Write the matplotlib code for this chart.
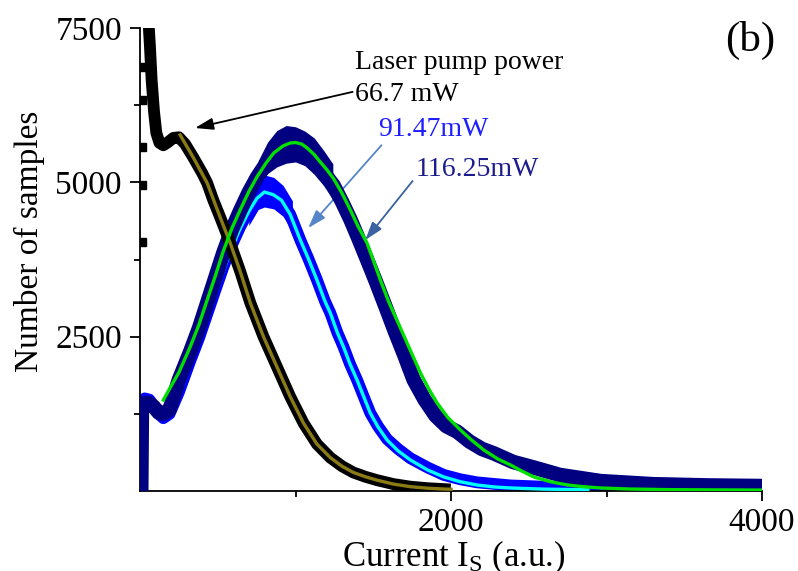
import matplotlib
matplotlib.use('Agg')
import matplotlib.pyplot as plt

plt.rcParams['font.family'] = ['Liberation Serif', 'DejaVu Serif']
plt.rcParams['mathtext.fontset'] = 'custom'
plt.rcParams['mathtext.rm'] = 'Liberation Serif'
plt.rcParams['mathtext.it'] = 'Liberation Serif:italic'

# ---------------- data ----------------
# 66.7 mW : measured histogram (black) and fit (olive)
black_x = [50, 64, 75, 90, 105, 125, 150, 180, 215, 250, 290, 341, 400, 432, 470, 515,
           580, 644, 709, 794, 880, 966, 1052, 1138, 1224, 1300, 1372, 1450, 1525, 1630,
           1739, 1850, 1960]
black_y = [7800, 7200, 6650, 6150, 5800, 5640, 5600, 5650, 5720, 5730, 5620, 5410, 5150,
           4989, 4720, 4438, 4017, 3560, 3050, 2500, 2014, 1528, 1097, 760, 540, 400, 300,
           230, 175, 112, 70, 45, 30]
black_scatter_x = [15, 15, 15, 15, 15]
black_scatter_y = [6870, 6330, 5570, 4950, 4030]
olive_x = [258, 341, 432, 515, 580, 644, 709, 794, 880, 966, 1052, 1138, 1224, 1300,
           1372, 1450, 1525, 1630, 1739, 1850, 1952, 2000]
olive_y = [5767, 5410, 4989, 4438, 4017, 3560, 3050, 2500, 2014, 1528, 1097, 760, 540,
           400, 300, 230, 175, 112, 70, 45, 32, 28]

# 91.47 mW : measured (blue) and fit (cyan)
blue_x = [8, 12, 30, 60, 90, 120, 150, 190, 250, 322, 380, 430, 480, 535, 590, 644, 700,
          752, 800, 857, 910, 966, 1031, 1085, 1138, 1190, 1224, 1270, 1309, 1350, 1396,
          1440, 1481, 1530, 1589, 1660, 1739, 1850, 1954, 2060, 2168, 2383, 2800, 3500, 4000]
blue_y = [40, 1400, 1500, 1480, 1380, 1250, 1180, 1250, 1600, 2100, 2480, 2850, 3220,
          3620, 3980, 4280, 4540, 4740, 4843, 4800, 4710, 4480, 4066, 3750, 3418, 3070,
          2883, 2560, 2333, 2060, 1798, 1520, 1263, 1050, 840, 680, 530, 380, 260, 190,
          140, 90, 50, 25, 20]
blue_peak_x = [700, 760, 800, 860, 920, 980]
blue_peak_hi = [4880, 5080, 5120, 5080, 4950, 4700]
blue_peak_lo = [4300, 4560, 4600, 4570, 4450, 4200]
cyan_x = [170, 250, 322, 380, 430, 480, 535, 590, 644, 700, 752, 800, 857, 910, 966, 1031,
          1085, 1138, 1190, 1224, 1270, 1309, 1350, 1396, 1440, 1481, 1530, 1589, 1660,
          1739, 1850, 1954, 2060, 2168, 2280, 2383, 2600, 2880]
cyan_y = [1200, 1550, 2050, 2420, 2780, 3150, 3560, 3930, 4250, 4530, 4740, 4843, 4800,
          4710, 4480, 4066, 3750, 3418, 3070, 2883, 2560, 2333, 2060, 1798, 1520, 1263,
          1040, 826, 650, 502, 340, 227, 150, 97, 65, 49, 30, 20]

# 116.25 mW : measured (navy) and fit (green)
navy_x = [8, 12, 30, 60, 90, 120, 150, 190, 250, 322, 380, 430, 480, 535, 590, 644, 700,
          752, 810, 860, 920, 966, 1000, 1040, 1075, 1120, 1159, 1200, 1245, 1300, 1353,
          1400, 1460, 1513, 1580, 1640, 1700, 1760, 1830, 1900, 1970, 2040, 2120, 2200,
          2275, 2400, 2533, 2700, 2963, 3300, 3650, 4000]
navy_y = [40, 1350, 1420, 1420, 1360, 1270, 1250, 1320, 1800, 2250, 2640, 3030, 3420,
          3850, 4230, 4540, 4840, 5080, 5300, 5470, 5590, 5630, 5630, 5600, 5540, 5400,
          5250, 5100, 4950, 4680, 4400, 4120, 3750, 3418, 2980, 2580, 2200, 1800, 1480,
          1220, 1050, 960, 800, 680, 610, 470, 380, 260, 160, 110, 90, 80]
navy_peak_x = [760, 820, 880, 940, 1000, 1060, 1120, 1180, 1240]
navy_peak_hi = [5350, 5650, 5840, 5920, 5900, 5830, 5720, 5520, 5300]
navy_peak_lo = [4950, 5140, 5250, 5310, 5330, 5270, 5130, 4950, 4720]
green_x = [150, 200, 250, 322, 380, 430, 480, 535, 590, 644, 700, 752, 810, 860, 920, 966,
           1000, 1040, 1075, 1120, 1159, 1200, 1245, 1300, 1353, 1400, 1460, 1500, 1546,
           1600, 1675, 1740, 1804, 1860, 1911, 1980, 2061, 2130, 2211, 2300, 2383, 2450,
           2533, 2640, 2750, 2850, 2963, 3150, 3400, 3700, 4000]
green_y = [1474, 1700, 1920, 2330, 2700, 3080, 3450, 3880, 4250, 4552, 4850, 5087, 5310,
           5475, 5590, 5637, 5645, 5620, 5556, 5450, 5330, 5210, 5060, 4820, 4552, 4300,
           4017, 3740, 3418, 3060, 2640, 2270, 1911, 1640, 1425, 1190, 988, 830, 664, 520,
           421, 330, 227, 150, 97, 70, 49, 32, 22, 18, 15]

x_major = [2000, 4000]
x_minor = [1000, 3000]
y_major = [2500, 5000, 7500]
y_minor = [1250, 3750, 6250]

# ---------------- figure ----------------
fig = plt.figure(figsize=(7.98, 5.71), dpi=100)
ax = fig.add_axes([140 / 798, 1 - 491 / 571, 622 / 798, 463 / 571])

BLACK = '#000000'
OLIVE = '#8B7B14'
BLUE = '#0000FF'
CYAN = '#00FFFF'
NAVY = '#000080'
GREEN = '#00E000'

# 91.47 mW data + fit
ax.plot(blue_x, blue_y, color=BLUE, lw=8.5, solid_capstyle='projecting',
        solid_joinstyle='round', zorder=2)
ax.fill_between(blue_peak_x, blue_peak_lo, blue_peak_hi, color=BLUE, lw=0, zorder=2)
ax.plot(cyan_x, cyan_y, color=CYAN, lw=2.4, zorder=3)

# 116.25 mW data
ax.plot(navy_x, navy_y, color=NAVY, lw=10.5, solid_capstyle='projecting',
        solid_joinstyle='round', zorder=4)
ax.fill_between(navy_peak_x, navy_peak_lo, navy_peak_hi, color=NAVY, lw=0, zorder=4)

# 66.7 mW data + fit
ax.plot(black_x, black_y, color=BLACK, lw=8.5, solid_capstyle='projecting',
        solid_joinstyle='round', zorder=5)
ax.plot(black_scatter_x, black_scatter_y, ls='none', marker='s', ms=5.5,
        color=BLACK, zorder=5, clip_on=True)
ax.plot(olive_x, olive_y, color=OLIVE, lw=2.4, zorder=6)

# 116.25 mW fit
ax.plot(green_x, green_y, color=GREEN, lw=2.4, zorder=7)

# axes styling
ax.set_xlim(0, 4000)
ax.set_ylim(0, 7500)
for s in ['top', 'right']:
    ax.spines[s].set_visible(False)
for s in ['left', 'bottom']:
    ax.spines[s].set_linewidth(1.3)
ax.set_xticks(x_major)
ax.set_xticks(x_minor, minor=True)
ax.set_yticks(y_major)
ax.set_yticks(y_minor, minor=True)
ax.tick_params(which='major', direction='out', length=7, width=1.3, labelsize=24)
ax.tick_params(axis='x', which='major', pad=5)
ax.tick_params(axis='y', which='major', pad=6)
ax.tick_params(which='minor', direction='out', length=4, width=1.3)

ax.set_ylabel('Number of samples', fontsize=24)
ax.yaxis.set_label_coords(-0.152, 0.54)
ax.set_xlabel(r'Current $\mathrm{I_S}$ (a.u.)', fontsize=25)
ax.xaxis.set_label_coords(0.505, -0.102)

# annotations
ax.text(1385, 6949, 'Laser pump power', fontsize=20, color=BLACK, ha='left', va='center')
ax.annotate('66.7 mW', xy=(354, 5880), xytext=(1385, 6415), fontsize=20, color=BLACK,
            ha='left', va='center',
            arrowprops=dict(arrowstyle='-|>,head_length=0.55,head_width=0.18', color=BLACK,
                            lw=1.3, shrinkA=0, shrinkB=0,
                            relpos=(0.0, 0.65)))
ax.annotate('91.47mW', xy=(1082, 4260), xytext=(1533, 5848), fontsize=20, color='#1E1EFF',
            ha='left', va='center',
            arrowprops=dict(arrowstyle='-|>,head_length=0.55,head_width=0.18', color='#5585C8',
                            lw=1.3, shrinkA=0, shrinkB=0, relpos=(0.05, 0.0)))
ax.annotate('116.25mW', xy=(1449, 4066), xytext=(1771, 5200), fontsize=20, color='#1C1C8C',
            ha='left', va='center',
            arrowprops=dict(arrowstyle='-|>,head_length=0.55,head_width=0.18', color='#3A62A0',
                            lw=1.3, shrinkA=0, shrinkB=0, relpos=(0.0, 0.2)))

fig.text(750 / 798, 1 - 40 / 571, '(b)', fontsize=31, ha='center', va='center')

fig.savefig('out.png', dpi=100)
